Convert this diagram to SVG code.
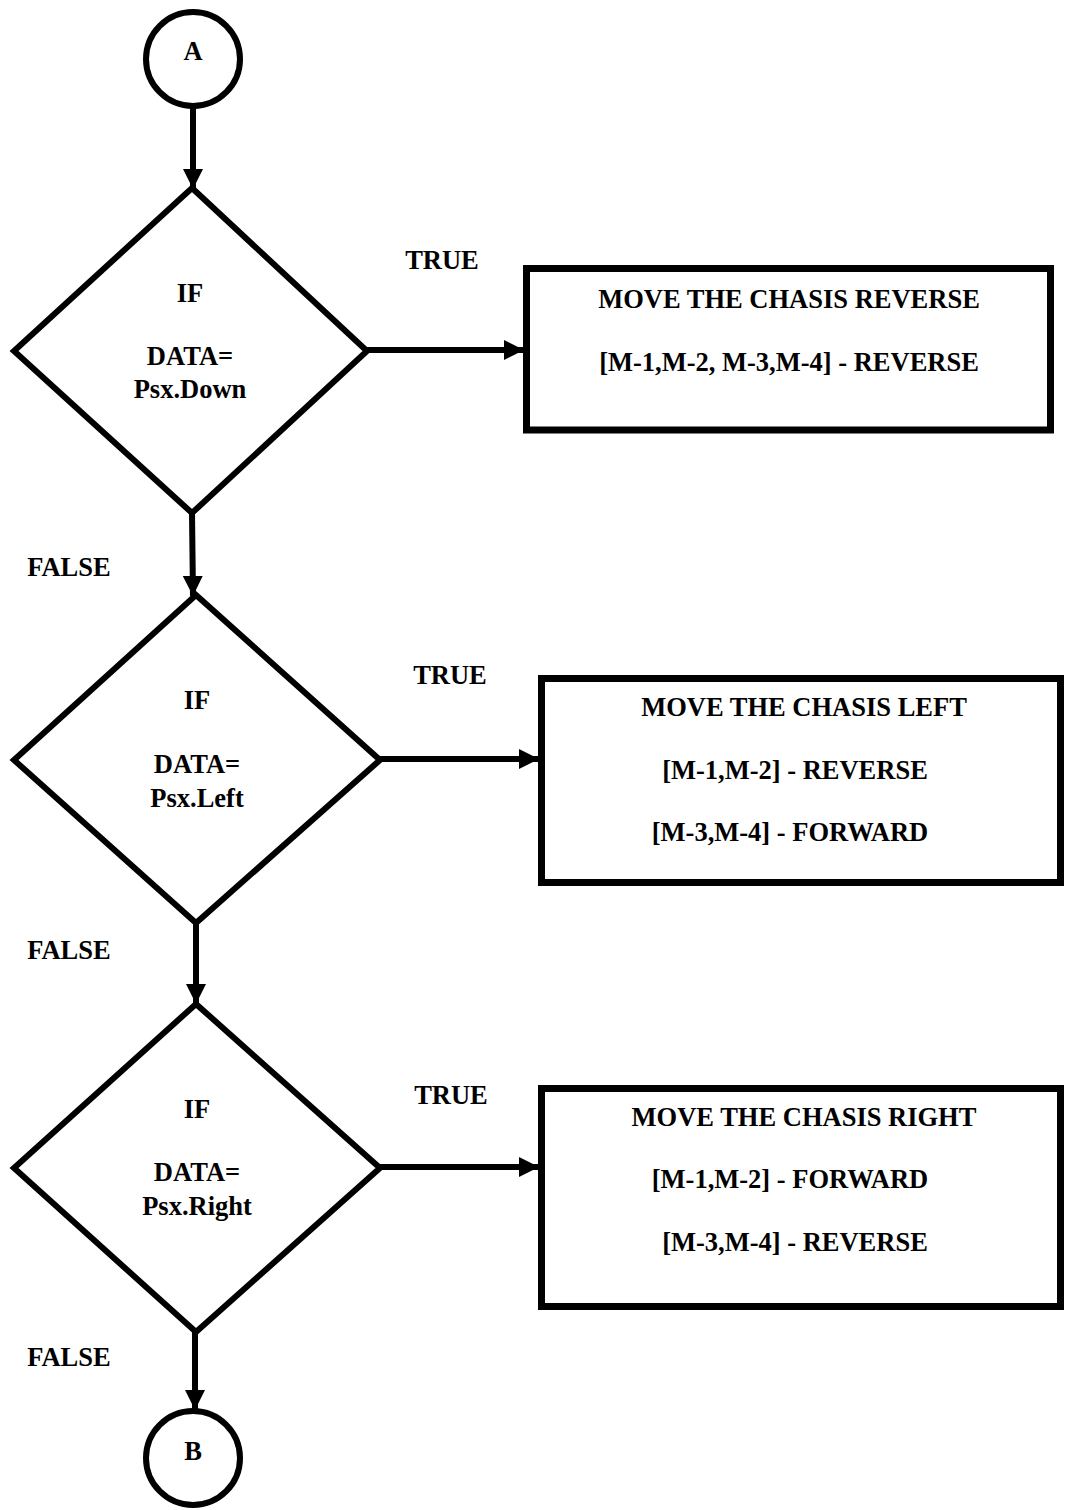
<svg xmlns="http://www.w3.org/2000/svg" width="1065" height="1510" viewBox="0 0 1065 1510">
<style>
  .shape { fill: #ffffff; stroke: #000000; }
  .dia { stroke-width: 6; stroke-linejoin: miter; }
  .box { stroke-width: 7; }
  .circ { stroke-width: 6; }
  .conn { stroke: #000000; stroke-width: 6; fill: none; }
  text { font-family: "Liberation Serif", "Times New Roman", serif; font-weight: bold; font-size: 26.5px; fill: #000000; }
  .c { text-anchor: middle; }
</style>
<defs>
  <marker id="arrow" markerUnits="userSpaceOnUse" markerWidth="22" markerHeight="22" refX="20" refY="11" orient="auto">
    <path d="M0,1 L20,11 L0,21 Z" fill="#000000"/>
  </marker>
</defs>
<rect width="1065" height="1510" fill="#ffffff"/>

<g id="connectors">
  <line class="conn" x1="193" y1="108" x2="193" y2="189" marker-end="url(#arrow)"/>
  <line class="conn" x1="367" y1="350" x2="524" y2="350" marker-end="url(#arrow)"/>
  <line class="conn" x1="192" y1="513" x2="193" y2="596" marker-end="url(#arrow)"/>
  <line class="conn" x1="380" y1="759" x2="539" y2="759" marker-end="url(#arrow)"/>
  <line class="conn" x1="196" y1="923" x2="196" y2="1004" marker-end="url(#arrow)"/>
  <line class="conn" x1="380" y1="1167" x2="539" y2="1167" marker-end="url(#arrow)"/>
  <line class="conn" x1="195" y1="1332" x2="195" y2="1410" marker-end="url(#arrow)"/>
  <text x="442" y="269" class="c">TRUE</text>
  <text x="69" y="576" class="c">FALSE</text>
  <text x="450" y="684" class="c">TRUE</text>
  <text x="69" y="959" class="c">FALSE</text>
  <text x="451" y="1104" class="c">TRUE</text>
  <text x="69" y="1366" class="c">FALSE</text>
</g>

<g id="startA">
  <circle class="shape circ" cx="193" cy="59" r="47"/>
  <text x="193" y="60" class="c">A</text>
</g>

<g id="decision1">
  <polygon class="shape dia" points="192,188 367,351 192,513 14,351"/>
  <text x="190" y="302" class="c">IF</text>
  <text x="190" y="365" class="c">DATA=</text>
  <text x="190" y="398" class="c">Psx.Down</text>
</g>

<g id="action1">
  <rect class="shape box" x="526.5" y="268.5" width="524" height="161.5"/>
  <text x="789" y="308" class="c">MOVE THE CHASIS REVERSE</text>
  <text x="789" y="371" class="c">[M-1,M-2, M-3,M-4] - REVERSE</text>
</g>

<g id="decision2">
  <polygon class="shape dia" points="196,595 380,760 196,923 14,760"/>
  <text x="197" y="709" class="c">IF</text>
  <text x="197" y="773" class="c">DATA=</text>
  <text x="197" y="807" class="c">Psx.Left</text>
</g>

<g id="action2">
  <rect class="shape box" x="541.5" y="678.5" width="519" height="204"/>
  <text x="804" y="716" class="c">MOVE THE CHASIS LEFT</text>
  <text x="795" y="779" class="c">[M-1,M-2] - REVERSE</text>
  <text x="790" y="841" class="c">[M-3,M-4] - FORWARD</text>
</g>

<g id="decision3">
  <polygon class="shape dia" points="196,1004 380,1168 196,1332 14,1168"/>
  <text x="197" y="1118" class="c">IF</text>
  <text x="197" y="1181" class="c">DATA=</text>
  <text x="197" y="1215" class="c">Psx.Right</text>
</g>

<g id="action3">
  <rect class="shape box" x="541.5" y="1088.5" width="519" height="218"/>
  <text x="804" y="1126" class="c">MOVE THE CHASIS RIGHT</text>
  <text x="790" y="1188" class="c">[M-1,M-2] - FORWARD</text>
  <text x="795" y="1251" class="c">[M-3,M-4] - REVERSE</text>
</g>

<g id="endB">
  <circle class="shape circ" cx="193" cy="1458" r="47"/>
  <text x="193" y="1460" class="c">B</text>
</g>
</svg>
